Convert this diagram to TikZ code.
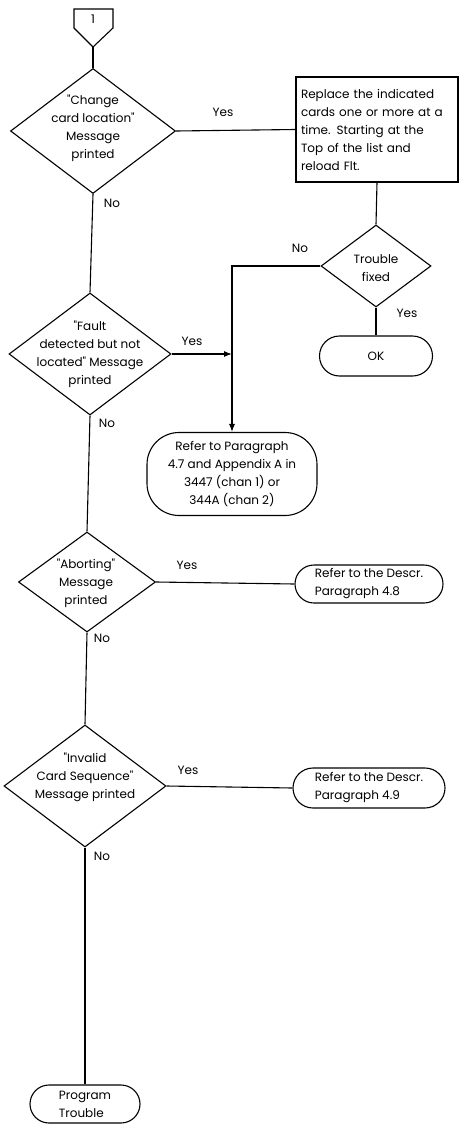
\documentclass[tikz,border=0pt]{standalone}
\usepackage{fontspec}
\setmainfont{Poppins}
\usetikzlibrary{arrows.meta,shapes.geometric}
\newcommand{\q}{\textquotedbl}
\begin{document}
\begin{tikzpicture}[x=1pt,y=-1pt,
  every node/.style={font=\fontsize{12}{18}\selectfont, inner sep=0pt},
  ln/.style={line width=1.1pt},
  arr/.style={ln,-{Latex[length=8pt,width=6pt]}},
  dia/.style={draw,ln,shape=diamond,inner sep=0pt},
  txt/.style={align=center},
  box/.style={draw,ln,rectangle},
  term/.style={draw,ln,rectangle},
  lbl/.style={}]
\useasboundingbox (0,0) rectangle (459,1124);

% off-page connector
\draw[ln] (74,9) -- (113,9) -- (113,28) -- (93,47) -- (74,28) -- cycle;
\node (c1) at (93,19) {1};
\coordinate (c1b) at (93,47);

% decision 1
\node[dia,minimum width=165pt,minimum height=125pt] (d1) at (93,131) {};
\node[txt] (t1) at (93,128) {\q Change\\card location\q\\Message\\printed};

% action box
\node[box,minimum width=162pt,minimum height=105pt,text width=152pt,align=left] (bx) at (377,129.5)
  {Replace the indicated\\cards one or more at a\\time. Starting at the\\Top of the list and\\reload Flt.};

% trouble fixed
\node[dia,minimum width=110pt,minimum height=82pt] (d5) at (376,266) {};
\node[txt] (t5) at (376,268) {Trouble\\fixed};

% OK
\node[term,rounded corners=20pt,minimum width=113pt,minimum height=40pt] (ok) at (376,356) {OK};

% decision 2
\node[dia,minimum width=162pt,minimum height=122pt] (d2) at (90,354) {};
\node[txt] (t2) at (90,354) {\q Fault\\detected but not\\located\q\ Message\\printed};

% refer paragraph
\node[term,rounded corners=32pt,minimum width=170pt,minimum height=83pt,align=center] (rf) at (232,474)
  {Refer to Paragraph\\4.7 and Appendix A in\\3447 (chan 1) or\\344A (chan 2)};

% decision 3
\node[dia,minimum width=137pt,minimum height=100pt] (d3) at (87,582) {};
\node[txt] (t3) at (86,583) {\q Aborting\q\\Message\\printed};

\node[term,rounded corners=19pt,minimum width=148pt,minimum height=38pt,align=left] (r48) at (369,584)
  {Refer to the Descr.\\Paragraph 4.8};

% decision 4
\node[dia,minimum width=162pt,minimum height=122pt] (d4) at (85,786) {};
\node[txt] (t4) at (85,777) {\q Invalid\\Card Sequence\q\\Message printed};

\node[term,rounded corners=20pt,minimum width=152pt,minimum height=40pt,align=left] (r49) at (369,788)
  {Refer to the Descr.\\Paragraph 4.9};

% program trouble
\node[term,rounded corners=19pt,minimum width=110pt,minimum height=38pt,align=left] (pt) at (85,1104)
  {Program\\Trouble};

% connectors
\draw[ln] (c1b) -- (d1.north);
\draw[ln] (d1.east) -- (bx.west);
\draw[ln] (bx.south) -- (d5.north);
\draw[ln] (d5.south) -- (ok.north);
\draw[arr] (d5.west) -| (rf.north);
\draw[arr] (d2.east) -- (d2.east -| rf.north);
\draw[ln] (d1.south) -- (d2.north);
\draw[ln] (d2.south) -- (d3.north);
\draw[ln] (d3.east) -- (r48.west);
\draw[ln] (d3.south) -- (d4.north);
\draw[ln] (d4.east) -- (r49.west);
\draw[ln] (d4.south) -- (pt.north);

% labels
\node[lbl] (y1) at (223,112) {Yes};
\node[lbl] (n1) at (112,203) {No};
\node[lbl] (n5) at (300,248) {No};
\node[lbl] (y5) at (407,313) {Yes};
\node[lbl] (y2) at (192,341) {Yes};
\node[lbl] (n2) at (107,423) {No};
\node[lbl] (y3) at (187,565) {Yes};
\node[lbl] (n3) at (102,638) {No};
\node[lbl] (y4) at (188,770) {Yes};
\node[lbl] (n4) at (102,856) {No};
\end{tikzpicture}
\end{document}
